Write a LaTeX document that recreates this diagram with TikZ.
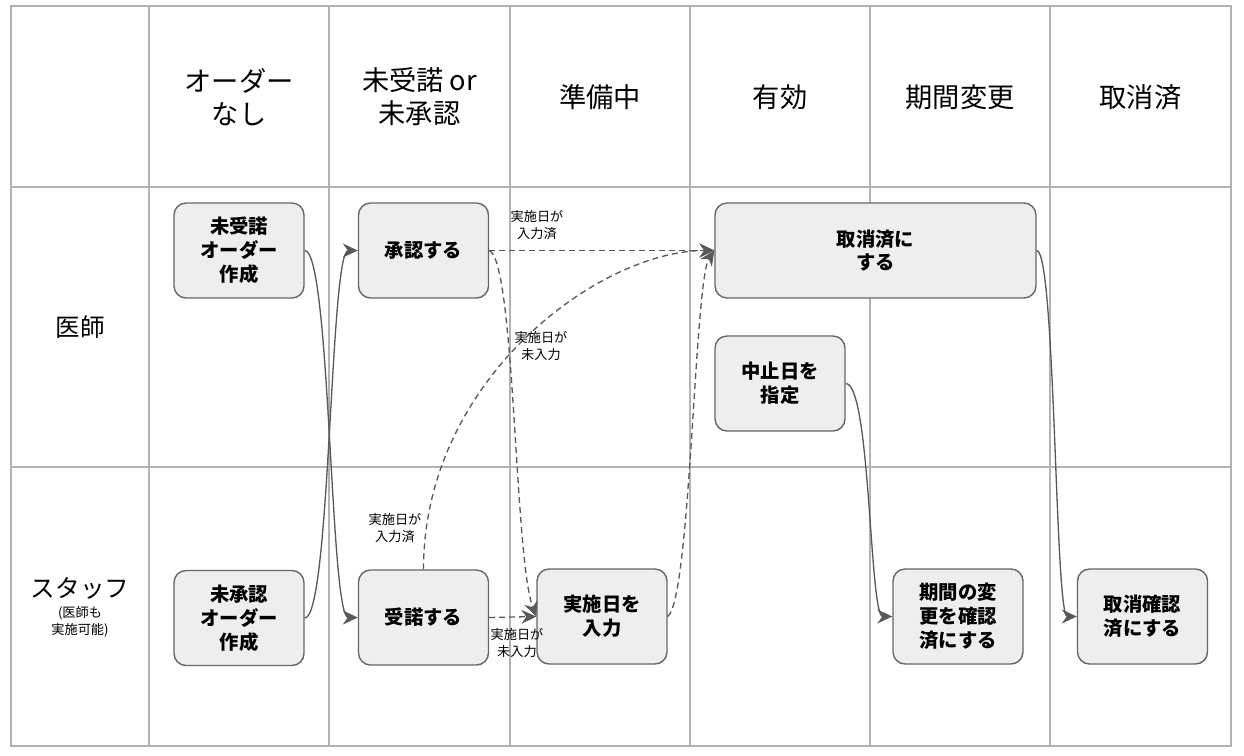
\documentclass[tikz,border=0pt]{standalone}
\usepackage{fontspec}
\setmainfont{Noto Sans CJK JP}
\usepackage{tikz}
\usetikzlibrary{arrows.meta, positioning, calc}
\definecolor{gridgray}{HTML}{B3B3B3}
\definecolor{boxfill}{HTML}{EEEEEE}
\definecolor{boxline}{HTML}{666666}
\definecolor{flowgray}{HTML}{595959}

\begin{document}
\begin{tikzpicture}[
    x=0.02cm, y=-0.02cm,
    gridline/.style={draw=gridgray, line width=1.1pt},
    header/.style={align=center, font=\fontsize{15.5}{18.7}\selectfont},
    lane/.style={align=center, font=\fontsize{14}{17}\selectfont},
    task/.style={rectangle, draw=boxline, fill=boxfill, rounded corners=0.24cm, line width=0.8pt, minimum width=2.6cm, minimum height=1.9cm, align=center, font=\fontsize{11}{13.6}\selectfont\bfseries},
    note/.style={align=center, font=\fontsize{7.5}{9.6}\selectfont, inner sep=0pt},
    arrow/.style={-{Stealth[length=3mm, width=2.8mm, inset=1mm]}, draw=flowgray, line width=0.75pt},
    cond/.style={arrow, dash pattern=on 3.4pt off 2.3pt}
]
    % Table
    \fill[white] (0,0) rectangle (1244,755);
    \draw[gridline] (11,6) rectangle (1231,746);
    \foreach \x in {149,329,510,690,870,1050}
        \draw[gridline] (\x,6) -- (\x,746);
    \foreach \y in {187,467}
        \draw[gridline] (11,\y) -- (1231,\y);

    % Headers
    \node[header] (hnone) at (239,97) {オーダー\\なし};
    \node[header] (hpend) at (419.5,97) {未受諾 or\\未承認};
    \node[header] (hprep) at (600,97) {準備中};
    \node[header] (hact) at (780,97) {有効};
    \node[header] (hchg) at (960,97) {期間変更};
    \node[header] (hdone) at (1140.5,97) {取消済};
    \node[lane] (ldoc) at (80,327) {医師};
    \node[lane] (lstaff) at (80,588) {スタッフ};
    \node[note] (lstaffnote) at (80,622) {(医師も\\実施可能)};

    % Components
    \node[task] (ordreq) at (239,250.5) {未受諾\\オーダー\\作成};
    \node[task] (approve) at (423.5,250.5) {承認する};
    \node[task, minimum width=6.42cm] (cancel) at (875.5,250.5) {取消済に\\する};
    \node[task] (stopdate) at (780,383.5) {中止日を\\指定};
    \node[task] (ordunap) at (239,618) {未承認\\オーダー\\作成};
    \node[task] (accept) at (423.5,617.5) {受諾する};
    \node[task] (startdate) at (602,616.5) {実施日を\\入力};
    \node[task] (periodok) at (958,616.5) {期間の変\\更を確認\\済にする};
    \node[task] (cancelok) at (1142.5,616.5) {取消確認\\済にする};

    % Arrows
    \draw[arrow] (ordreq.east) .. controls +(26,0) and +(-28,0) .. (accept.west);
    \draw[arrow] (ordunap.east) .. controls +(26,0) and +(-28,0) .. (approve.west);
    \draw[cond] (approve.east) -- (cancel.west);
    \draw[cond] (approve.east) .. controls +(26,10) and +(-22,-57) .. (startdate.west);
    \draw[cond] (accept.north) .. controls +(0,-190) and +(-115,0) .. (cancel.west);
    \draw[cond] (accept.east) -- (startdate.west);
    \draw[cond] (startdate.east) .. controls +(23,-17) and +(-20,30) .. (cancel.west);
    \draw[arrow] (stopdate.east) .. controls +(25,0) and +(-23,0) .. (periodok.west);
    \draw[arrow] (cancel.east) .. controls +(19,0) and +(-22,0) .. (cancelok.west);

    % Labels
    \node[note] (lblset) at (537,225) {実施日が\\入力済};
    \node[note] (lblunset) at (541,346) {実施日が\\未入力};
    \node[note] (lblset2) at (395,528) {実施日が\\入力済};
    \node[note] (lblunset2) at (517,643) {実施日が\\未入力};
\end{tikzpicture}
\end{document}
